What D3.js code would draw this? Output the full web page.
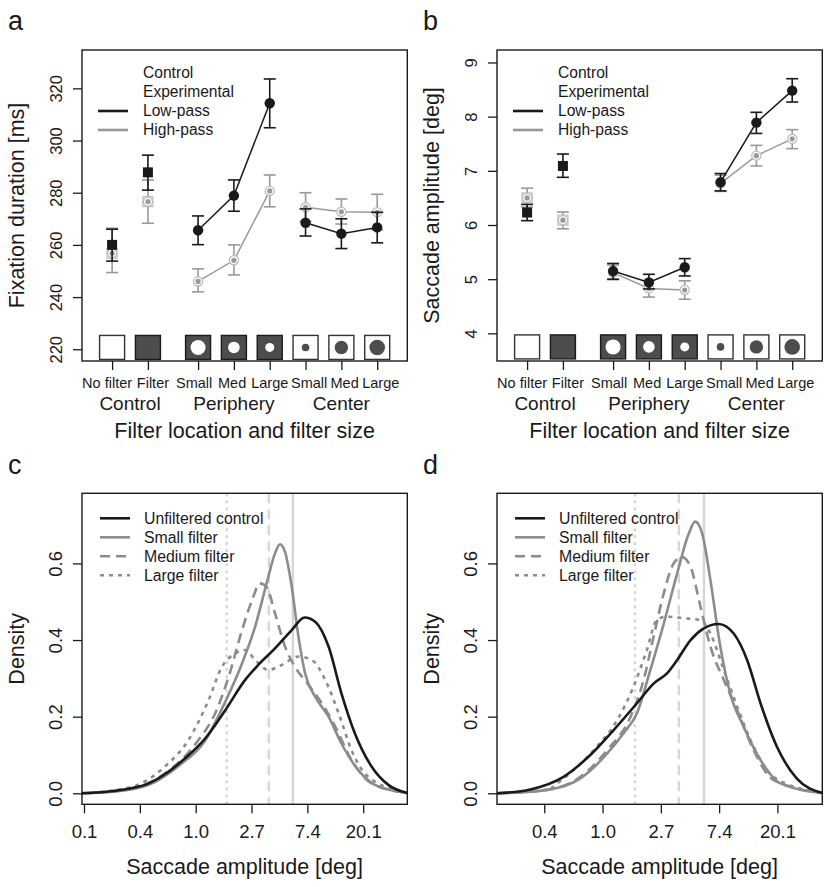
<!DOCTYPE html>
<html>
<head>
<meta charset="utf-8">
<script src="https://cdn.jsdelivr.net/npm/d3@7"></script>
<style>
  body { margin: 0; background: #fff; }
  text { font-family: "Liberation Sans", Arial, sans-serif; fill: #1a1a1a; }
</style>
</head>
<body>
<svg id="chart" width="830" height="887"></svg>
<script>
// x categories (top panels)
var xPos = [1, 2, 3.4, 4.4, 5.4, 6.4, 7.4, 8.4];
var xTickLabels = ['No filter', 'Filter', 'Small', 'Med', 'Large', 'Small', 'Med', 'Large'];
var xLabelPos = [0.86, 2.14, 3.29, 4.35, 5.4, 6.5, 7.49, 8.5];
var groupLabels = ['Control', 'Periphery', 'Center'];
var groupCenters = [1.5, 4.4, 7.4];
var linkedGroups = [[2, 3, 4], [5, 6, 7]];

// panel a: fixation duration [ms]
var fixLowMean  = [260.0, 287.8, 265.6, 278.9, 314.3, 268.5, 264.3, 266.7];
var fixLowLo    = [253.8, 281.0, 260.1, 272.9, 304.9, 263.4, 258.6, 260.8];
var fixLowHi    = [266.0, 294.4, 271.1, 284.9, 323.6, 273.8, 270.0, 272.5];
var fixHighMean = [256.8, 276.6, 246.0, 254.1, 280.7, 274.4, 272.7, 272.5];
var fixHighLo   = [249.4, 268.3, 242.0, 248.5, 274.6, 269.0, 268.0, 265.8];
var fixHighHi   = [266.4, 284.9, 250.8, 260.0, 286.8, 280.0, 277.6, 279.4];
var fixTicks = [220, 240, 260, 280, 300, 320];

// panel b: saccade amplitude [deg]
var ampLowMean  = [6.23, 7.09, 5.15, 4.94, 5.22, 6.79, 7.89, 8.48];
var ampLowLo    = [6.08, 6.88, 5.00, 4.82, 5.06, 6.63, 7.69, 8.27];
var ampLowHi    = [6.38, 7.31, 5.29, 5.09, 5.38, 6.95, 8.08, 8.70];
var ampHighMean = [6.50, 6.09, 5.12, 4.83, 4.80, 6.77, 7.28, 7.59];
var ampHighLo   = [6.33, 5.93, 4.99, 4.67, 4.63, 6.62, 7.09, 7.41];
var ampHighHi   = [6.68, 6.24, 5.26, 4.98, 4.97, 6.92, 7.47, 7.76];
var ampTicks = [4, 5, 6, 7, 8, 9];

// filter icons: box fill and hole size
var iconDark = [false, true, true, true, true, false, false, false];
var iconDot  = [0, 0, 7.5, 5.8, 4.5, 3.8, 6.7, 7.8];

// panels c, d: density over log saccade amplitude, [ln(deg), density]
var cControl = [[-2.04,0],[-1.6,0.004],[-1.2,0.012],[-0.84,0.026],[-0.5,0.055],[-0.2,0.09],[0.17,0.143],[0.53,0.217],[0.886,0.296],[1.12,0.335],[1.42,0.378],[1.72,0.426],[1.95,0.459],[2.14,0.448],[2.38,0.383],[2.61,0.261],[2.85,0.157],[3.15,0.07],[3.45,0.022],[3.79,0.001]];
var cSmall   = [[-2.04,0],[-1.4,0.005],[-0.84,0.022],[-0.3,0.072],[0.17,0.138],[0.53,0.239],[0.83,0.339],[1.065,0.435],[1.27,0.548],[1.42,0.626],[1.51,0.65],[1.6,0.63],[1.72,0.539],[1.84,0.409],[1.96,0.313],[2.14,0.252],[2.38,0.2],[2.61,0.13],[2.91,0.061],[3.21,0.022],[3.79,0.001]];
var cMedium  = [[-2.04,0],[-1.14,0.013],[-0.55,0.052],[0.05,0.139],[0.35,0.209],[0.59,0.304],[0.83,0.426],[1.01,0.504],[1.15,0.548],[1.27,0.539],[1.42,0.47],[1.6,0.383],[1.78,0.33],[2.02,0.283],[2.26,0.235],[2.5,0.174],[2.79,0.087],[3.15,0.026],[3.79,0.001]];
var cLarge   = [[-2.04,0],[-1.14,0.017],[-0.55,0.07],[-0.13,0.139],[0.23,0.243],[0.47,0.33],[0.71,0.365],[0.886,0.374],[1.065,0.348],[1.3,0.322],[1.54,0.335],[1.84,0.357],[2.08,0.348],[2.32,0.296],[2.56,0.209],[2.79,0.113],[3.09,0.043],[3.79,0.001]];

var dControl = [[-1.81,0],[-1.24,0.01],[-0.67,0.043],[-0.21,0.1],[0.19,0.165],[0.59,0.235],[0.88,0.287],[1.105,0.313],[1.28,0.348],[1.51,0.4],[1.73,0.43],[1.99,0.442],[2.25,0.417],[2.48,0.348],[2.71,0.235],[2.99,0.122],[3.33,0.039],[3.77,0.001]];
var dSmall   = [[-1.81,0],[-0.95,0.009],[-0.38,0.039],[0.08,0.104],[0.36,0.157],[0.59,0.209],[0.82,0.322],[1.05,0.443],[1.28,0.574],[1.48,0.678],[1.59,0.709],[1.71,0.678],[1.85,0.557],[2.02,0.383],[2.19,0.261],[2.42,0.174],[2.71,0.087],[3.05,0.026],[3.77,0.001]];
var dMedium  = [[-1.81,0],[-0.95,0.009],[-0.38,0.043],[0.08,0.113],[0.48,0.2],[0.705,0.296],[0.876,0.409],[1.05,0.522],[1.22,0.6],[1.36,0.617],[1.51,0.591],[1.68,0.487],[1.85,0.383],[2.08,0.296],[2.31,0.217],[2.59,0.113],[2.93,0.035],[3.77,0.001]];
var dLarge   = [[-1.81,0],[-0.95,0.01],[-0.67,0.039],[-0.15,0.113],[0.25,0.191],[0.53,0.278],[0.76,0.374],[0.93,0.452],[1.105,0.461],[1.39,0.457],[1.68,0.452],[1.85,0.417],[2.08,0.322],[2.31,0.226],[2.59,0.122],[2.93,0.043],[3.77,0.001]];

// reference lines (ln deg): large, medium, small filter
var refLines = [0.555, 1.31, 1.74];
var densTicks = [0, 0.2, 0.4, 0.6];
var cLnTicks = [-2, -1, 0, 1, 2, 3];
var dLnTicks = [-1, 0, 1, 2, 3];
var densLegend = ['Unfiltered control', 'Small filter', 'Medium filter', 'Large filter'];

var ink = '#1a1a1a', grey = '#999', ring = '#bdbdbd', curveGrey = '#8c8c8c', refGrey = '#d6d6d6', dark = '#4d4d4d';
var dashes = [null, null, '10,6', '4,5'];

var svg = d3.select('#chart');
svg.append('rect').attr('width', 830).attr('height', 887).attr('fill', '#fff');

function box(g, x0, x1, y0, y1) {
    g.append('rect')
        .attr('x', x0).attr('y', y0)
        .attr('width', x1 - x0).attr('height', y1 - y0)
        .attr('fill', 'none').attr('stroke', ink).attr('stroke-width', 1.4);
}

function leftAxis(g, y, ticks, fmt, size) {
    var ax = g.append('g')
        .attr('transform', 'translate(82,0)')
        .call(d3.axisLeft(y).tickValues(ticks).tickFormat(fmt).tickSize(9).tickSizeOuter(0));
    ax.select('.domain').remove();
    ax.selectAll('line').attr('stroke', ink).attr('stroke-width', 1.3);
    ax.selectAll('text')
        .attr('x', null).attr('dy', null)
        .attr('transform', 'translate(-20,0) rotate(-90)')
        .attr('text-anchor', 'middle')
        .attr('fill', ink)
        .style('font-size', size + 'px')
        .style('font-family', '"Liberation Sans", Arial, sans-serif');
}

function topPanel(ox, label, yDomain, yTicks, yTitle, iconLevel, lowMean, lowLo, lowHi, highMean, highLo, highHi) {
    var g = svg.append('g').attr('transform', 'translate(' + ox + ',0)');
    var x = d3.scaleLinear().domain([0.16, 9.24]).range([82, 407.3]);
    var y = d3.scaleLinear().domain(yDomain).range([361, 50]);

    g.append('text').attr('x', 8).attr('y', 30).style('font-size', '27px').text(label);

    // filter icons
    var icons = g.selectAll('g.icon').data(xPos).enter().append('g')
        .attr('transform', function(d) { return 'translate(' + x(d) + ',' + y(iconLevel) + ')'; });
    icons.append('rect')
        .attr('x', -12.5).attr('y', -12).attr('width', 25).attr('height', 24)
        .attr('fill', function(d, i) { return iconDark[i] ? dark : '#fff'; })
        .attr('stroke', function(d, i) { return iconDark[i] ? ink : '#333'; })
        .attr('stroke-width', 1.4);
    icons.filter(function(d, i) { return iconDot[i] > 0; })
        .append('circle')
        .attr('r', function(d) { return iconDot[xPos.indexOf(d)]; })
        .attr('fill', function(d) { return iconDark[xPos.indexOf(d)] ? '#fff' : dark; });

    var series = [
        {mean: highMean, lo: highLo, hi: highHi, col: grey},
        {mean: lowMean, lo: lowLo, hi: lowHi, col: ink}
    ];
    series.forEach(function(s, k) {
        var line = d3.line().x(function(i) { return x(xPos[i]); }).y(function(i) { return y(s.mean[i]); });
        linkedGroups.forEach(function(grp) {
            g.append('path').attr('d', line(grp)).attr('fill', 'none')
                .attr('stroke', s.col).attr('stroke-width', 1.5);
        });
        var eb = g.selectAll(null).data(xPos).enter().append('g').attr('stroke', s.col).attr('stroke-width', 1.6);
        eb.append('line')
            .attr('x1', function(d) { return x(d); }).attr('x2', function(d) { return x(d); })
            .attr('y1', function(d, i) { return y(s.lo[i]); }).attr('y2', function(d, i) { return y(s.hi[i]); });
        eb.append('line')
            .attr('x1', function(d) { return x(d) - 6; }).attr('x2', function(d) { return x(d) + 6; })
            .attr('y1', function(d, i) { return y(s.lo[i]); }).attr('y2', function(d, i) { return y(s.lo[i]); });
        eb.append('line')
            .attr('x1', function(d) { return x(d) - 6; }).attr('x2', function(d) { return x(d) + 6; })
            .attr('y1', function(d, i) { return y(s.hi[i]); }).attr('y2', function(d, i) { return y(s.hi[i]); });

        var pts = g.selectAll(null).data(xPos).enter().append('g')
            .attr('transform', function(d, i) { return 'translate(' + x(d) + ',' + y(s.mean[i]) + ')'; });
        if (k === 1) {
            pts.filter(function(d, i) { return i < 2; }).append('rect')
                .attr('x', -5).attr('y', -5).attr('width', 10).attr('height', 10).attr('fill', ink);
            pts.filter(function(d, i) { return i >= 2; }).append('circle').attr('r', 5.2).attr('fill', ink);
        } else {
            pts.filter(function(d, i) { return i < 2; }).append('rect')
                .attr('x', -5).attr('y', -5).attr('width', 10).attr('height', 10)
                .attr('fill', '#fff').attr('stroke', ring).attr('stroke-width', 1.2);
            pts.append('circle').attr('r', 4.6).attr('fill', '#fff').attr('stroke', ring).attr('stroke-width', 1.3);
            pts.append('circle').attr('r', 2.6).attr('fill', grey);
        }
    });

    box(g, 82, 407.3, 50, 361);
    leftAxis(g, y, yTicks, d3.format('d'), 16.5);

    // x axis: ticks at categories, labels placed by text lines below
    var xa = g.append('g').attr('transform', 'translate(0,361)')
        .call(d3.axisBottom(x).tickValues(xPos).tickFormat('').tickSize(9).tickSizeOuter(0));
    xa.select('.domain').remove();
    xa.selectAll('line').attr('stroke', ink).attr('stroke-width', 1.3);

    g.selectAll(null).data(xTickLabels).enter().append('text')
        .attr('x', function(d, i) { return x(xLabelPos[i]); }).attr('y', 388)
        .attr('text-anchor', 'middle').style('font-size', '14.5px').text(function(d) { return d; });
    g.selectAll(null).data(groupLabels).enter().append('text')
        .attr('x', function(d, i) { return x(groupCenters[i]); }).attr('y', 410)
        .attr('text-anchor', 'middle').style('font-size', '19px').text(function(d) { return d; });
    g.append('text').attr('x', 244.6).attr('y', 438).attr('text-anchor', 'middle')
        .style('font-size', '21.5px').text('Filter location and filter size');
    g.append('text').attr('transform', 'translate(24,205.5) rotate(-90)').attr('text-anchor', 'middle')
        .style('font-size', '21.5px').text(yTitle);

    // legend
    var legRows = ['Control', 'Experimental', 'Low-pass', 'High-pass'];
    var legCol = [null, null, ink, grey];
    legRows.forEach(function(t, i) {
        var ly = 73 + i * 19;
        if (legCol[i]) {
            g.append('line').attr('x1', 98).attr('x2', 128).attr('y1', ly).attr('y2', ly)
                .attr('stroke', legCol[i]).attr('stroke-width', 2.6);
        }
        g.append('text').attr('x', 143).attr('y', ly).attr('dy', '0.35em')
            .style('font-size', '15.6px').text(t);
    });
}

function densPanel(ox, label, xDomain, lnTicks, curves) {
    var g = svg.append('g').attr('transform', 'translate(' + ox + ',0)');
    var x = d3.scaleLinear().domain(xDomain).range([82, 407.3]);
    var y = d3.scaleLinear().domain([-0.0287, 0.783]).range([804.3, 493.3]);

    g.append('text').attr('x', 8).attr('y', 474).style('font-size', '27px').text(label);

    // reference lines: large (dotted), medium (dashed), small (solid)
    var refDash = ['3,4', '10,6', null];
    refLines.forEach(function(v, i) {
        g.append('line').attr('x1', x(v)).attr('x2', x(v)).attr('y1', 493.3).attr('y2', 804.3)
            .attr('stroke', refGrey).attr('stroke-width', 2.4)
            .attr('stroke-dasharray', refDash[i]);
    });

    var line = d3.line().x(function(d) { return x(d[0]); }).y(function(d) { return y(d[1]); })
        .curve(d3.curveMonotoneX);
    var order = [3, 2, 1, 0];
    order.forEach(function(k) {
        g.append('path').attr('d', line(curves[k])).attr('fill', 'none')
            .attr('stroke', k === 0 ? ink : curveGrey).attr('stroke-width', 2.6)
            .attr('stroke-dasharray', dashes[k]);
    });

    box(g, 82, 407.3, 493.3, 804.3);
    leftAxis(g, y, densTicks, d3.format('.1f'), 18.5);

    var xa = g.append('g').attr('transform', 'translate(0,804.3)')
        .call(d3.axisBottom(x).tickValues(lnTicks).tickFormat(function(d) { return Math.exp(d).toFixed(1); })
            .tickSize(9).tickSizeOuter(0));
    xa.select('.domain').remove();
    xa.selectAll('line').attr('stroke', ink).attr('stroke-width', 1.3);
    xa.selectAll('text').attr('y', 34).attr('dy', null).attr('fill', ink)
        .style('font-size', '18.5px').style('font-family', '"Liberation Sans", Arial, sans-serif');

    g.append('text').attr('x', 244.6).attr('y', 874).attr('text-anchor', 'middle')
        .style('font-size', '21.5px').text('Saccade amplitude [deg]');
    g.append('text').attr('transform', 'translate(24,648.8) rotate(-90)').attr('text-anchor', 'middle')
        .style('font-size', '21.5px').text('Density');

    densLegend.forEach(function(t, i) {
        var ly = 518.3 + i * 19;
        g.append('line').attr('x1', 100).attr('x2', 130).attr('y1', ly).attr('y2', ly)
            .attr('stroke', i === 0 ? ink : curveGrey).attr('stroke-width', 2.6)
            .attr('stroke-dasharray', dashes[i]);
        g.append('text').attr('x', 144).attr('y', ly).attr('dy', '0.35em')
            .style('font-size', '15.8px').text(t);
    });
}

topPanel(0, 'a', [215.5, 334.7], fixTicks, 'Fixation duration [ms]', 220.7,
    fixLowMean, fixLowLo, fixLowHi, fixHighMean, fixHighLo, fixHighHi);
topPanel(415, 'b', [3.49, 9.23], ampTicks, 'Saccade amplitude [deg]', 3.75,
    ampLowMean, ampLowLo, ampLowHi, ampHighMean, ampHighLo, ampHighHi);
densPanel(0, 'c', [-2.036, 3.79], cLnTicks, [cControl, cSmall, cMedium, cLarge]);
densPanel(415, 'd', [-1.811, 3.77], dLnTicks, [dControl, dSmall, dMedium, dLarge]);
</script>
</body>
</html>
